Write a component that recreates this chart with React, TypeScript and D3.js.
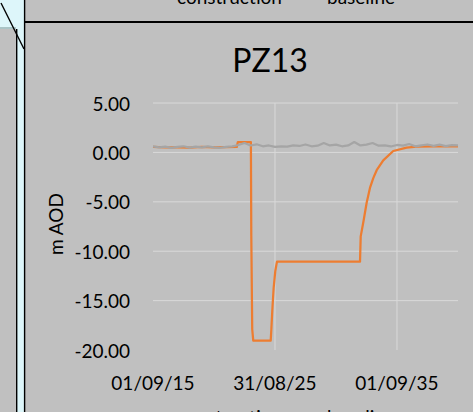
import React from "react";
import * as d3 from "d3";

const W = 473;
const H = 412;

const chartTitle = "PZ13";
const yAxisTitle = "m AOD";
const seriesNames = ["construction", "baseline"];
const seriesColors = ["#ed7d31", "#a5a5a5"];

const yTicks = [5, 0, -5, -10, -15, -20];
const xTickDates = ["2015-09-01", "2025-08-31", "2035-09-01"];
const xTickLabels = ["01/09/15", "31/08/25", "01/09/35"];
const xDomain = ["2015-09-01", "2040-09-01"];

const constructionDates = [
  "2015-09-01", "2016-09-01", "2017-09-01", "2018-09-01", "2019-09-01",
  "2020-09-01", "2021-09-01", "2022-07-15", "2022-08-15", "2023-09-10",
  "2023-09-22", "2023-10-20", "2023-11-20", "2025-04-25", "2025-05-13",
  "2025-06-12", "2025-07-23", "2025-09-10", "2025-10-30", "2032-08-20",
  "2032-09-10", "2032-12-01", "2033-03-07", "2033-06-14", "2033-09-21",
  "2034-01-01", "2034-07-17", "2035-05-12", "2036-06-17", "2037-04-12",
  "2038-09-01", "2039-09-01", "2040-09-01",
];
const constructionValues = [
  0.55, 0.5, 0.52, 0.48, 0.55,
  0.5, 0.53, 0.55, 1.05, 1.05,
  -8.4, -17.9, -19.05, -19.05, -18.0,
  -16.0, -13.7, -12.0, -11.06, -11.06,
  -8.5, -7.0, -5.1, -3.6, -2.6,
  -1.8, -0.8, 0.14, 0.48, 0.58,
  0.6, 0.62, 0.6,
];

const baselineDates = [
  "2015-09-01", "2016-03-01", "2016-09-01", "2017-03-01", "2017-09-01",
  "2018-03-01", "2018-09-01", "2019-03-01", "2019-09-01", "2020-03-01",
  "2020-09-01", "2021-03-01", "2021-09-01", "2022-03-01", "2022-09-01",
  "2023-03-01", "2023-09-01", "2024-03-01", "2024-09-01", "2025-03-01",
  "2025-09-01", "2026-03-01", "2026-09-01", "2027-03-01", "2027-09-01",
  "2028-03-01", "2028-09-01", "2029-03-01", "2029-09-01", "2030-03-01",
  "2030-09-01", "2031-03-01", "2031-09-01", "2032-03-01", "2032-09-01",
  "2033-03-01", "2033-09-01", "2034-03-01", "2034-09-01", "2035-03-01",
  "2035-09-01", "2036-03-01", "2036-09-01", "2037-03-01", "2037-09-01",
  "2038-03-01", "2038-09-01", "2039-03-01", "2039-09-01", "2040-03-01",
  "2040-09-01",
];
const baselineValues = [
  0.6, 0.52, 0.58, 0.45, 0.55,
  0.62, 0.48, 0.58, 0.5, 0.6,
  0.52, 0.47, 0.56, 0.62, 0.75,
  0.95, 0.7, 0.82, 0.62, 0.7,
  0.55, 0.62, 0.58, 0.72, 0.65,
  0.8, 0.62, 0.68, 0.95, 0.7,
  0.78, 0.62, 0.7, 1.05, 0.7,
  0.78, 0.95, 0.68, 0.72, 0.6,
  0.75, 0.68, 0.85, 0.62, 0.72,
  0.8, 0.66, 0.78, 0.64, 0.74,
  0.7,
];

const parse = d3.utcParse("%Y-%m-%d");
const FONT = "Lato, 'Open Sans', sans-serif";

export default function App() {
  const x = d3
    .scaleUtc()
    .domain(xDomain.map((d) => parse(d) as Date))
    .range([153, 458]);
  const y = d3.scaleLinear().domain([-20, 5]).range([350, 103]);

  const line = d3
    .line<[Date, number]>()
    .x((d) => x(d[0]))
    .y((d) => y(d[1]));

  const construction: [Date, number][] = constructionDates.map((d, i) => [
    parse(d) as Date,
    constructionValues[i],
  ]);
  const baseline: [Date, number][] = baselineDates.map((d, i) => [
    parse(d) as Date,
    baselineValues[i],
  ]);

  const [x0, x1] = x.range();
  const [yb, yt] = y.range();

  return (
    <svg
      width={W}
      height={H}
      style={{ position: "absolute", left: 0, top: 0, display: "block" }}
      fontFamily={FONT}
    >
      <rect x={0} y={0} width={W} height={H} fill="#c0c0c0" />
      {/* left decorations */}
      <rect x={0} y={0} width={25} height={28} fill="#ddf6fa" />
      <rect x={0} y={27} width={16} height={2} fill="#a9c4c6" />
      <rect x={16} y={0} width={9} height={H} fill="#ddf6fa" />
      <line x1={16.7} x2={16.7} y1={29} y2={H} stroke="#000" strokeWidth={1.4} />
      <line x1={24.6} x2={24.6} y1={0} y2={H} stroke="#000" strokeWidth={1.4} />
      <line x1={1} y1={3} x2={24} y2={49} stroke="#000" strokeWidth={1.4} />
      <line x1={25} x2={W} y1={22} y2={22} stroke="#000" strokeWidth={2} />

      {/* legend of chart above (cut off) */}
      <text x={177} y={4} fontSize={19} fill="#000">{seriesNames[0]}</text>
      <text x={327} y={4} fontSize={19} fill="#000">{seriesNames[1]}</text>

      {/* title */}
      <text x={270} y={72} fontSize={32} textAnchor="middle" fill="#000">
        {chartTitle}
      </text>

      {/* gridlines */}
      {yTicks
        .filter((v) => v > -20)
        .map((v) => (
          <line key={"h" + v} x1={x0} x2={x1} y1={y(v)} y2={y(v)} stroke="#d9d9d9" strokeWidth={1} />
        ))}
      {xTickDates.slice(1).map((d) => {
        const xx = x(parse(d) as Date);
        return <line key={"v" + d} x1={xx} x2={xx} y1={yt} y2={yb} stroke="#d9d9d9" strokeWidth={1} />;
      })}

      {/* y tick labels */}
      {yTicks.map((v) => (
        <text key={"yl" + v} x={130} y={y(v) + 7.5} fontSize={19} textAnchor="end" fill="#000">
          {v.toFixed(2)}
        </text>
      ))}
      {/* x tick labels */}
      {xTickDates.map((d, i) => (
        <text key={"xl" + d} x={x(parse(d) as Date)} y={389.5} fontSize={19} textAnchor="middle" fill="#000">
          {xTickLabels[i]}
        </text>
      ))}

      {/* y axis title */}
      <text
        transform={`translate(63,224) rotate(-90)`}
        fontSize={19}
        textAnchor="middle"
        fill="#000"
      >
        {yAxisTitle}
      </text>

      {/* series */}
      <path d={line(construction) || ""} fill="none" stroke={seriesColors[0]} strokeWidth={2.25} strokeLinejoin="round" />
      <path d={line(baseline) || ""} fill="none" stroke={seriesColors[1]} strokeWidth={2.25} strokeLinejoin="round" />

      {/* legend of this chart (cut off at bottom) */}
      <text x={177} y={424} fontSize={19} fill="#000">{seriesNames[0]}</text>
      <text x={327} y={424} fontSize={19} fill="#000">{seriesNames[1]}</text>
    </svg>
  );
}
